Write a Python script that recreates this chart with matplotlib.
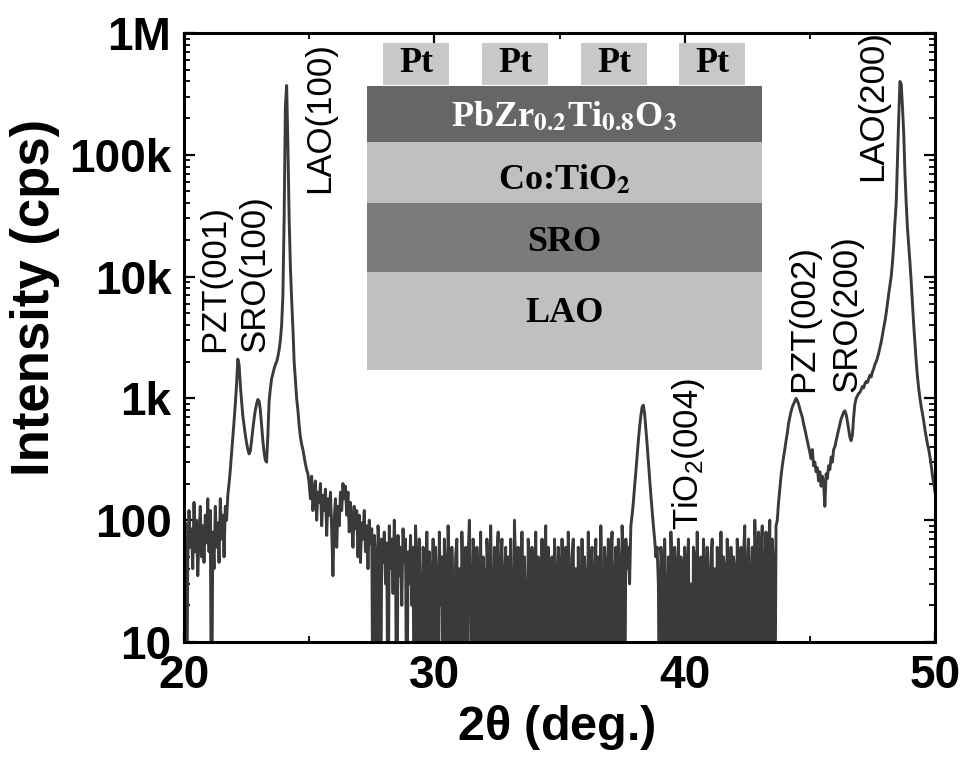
import numpy as np
import matplotlib
matplotlib.use("Agg")
import matplotlib.pyplot as plt
from matplotlib.patches import Rectangle
from matplotlib.ticker import FixedLocator, FixedFormatter, LogLocator, NullFormatter

# XRD scan, 0.05 deg steps from 20 to 50 deg (cps)
two_theta = np.round(np.linspace(20, 50, 601), 2)
counts = [
    # 20
    70, 95, 1, 45, 120, 60, 85, 40, 140, 55, 100, 35, 75, 130, 50, 90, 45, 110, 65, 150,
    # 21
    55, 120, 1, 80, 40, 130, 60, 95, 45, 150, 70, 110, 50, 130, 100, 160, 200, 260, 350, 480,
    # 22  PZT(001), SRO(100)
    650, 900, 1300, 2100, 1900, 1300, 950, 720, 600, 500, 430, 380, 350, 370, 450, 560, 680, 800, 900, 980,
    # 23
    950, 800, 600, 450, 360, 310, 300, 500, 950, 1200, 1450, 1600, 1750, 1900, 2000, 2200, 2500, 3000, 4000, 7000,
    # 24  LAO(100)
    30000, 250000, 370000, 120000, 30000, 12000, 6500, 3800, 2000, 1400, 1000, 800, 600, 480, 420, 380, 330, 290, 260, 240,
    # 25
    200, 150, 230, 120, 180, 210, 100, 170, 140, 200, 90, 160, 120, 180, 75, 150, 110, 170, 85, 35,
    # 26
    100, 150, 60, 130, 90, 170, 120, 200, 150, 190, 110, 170, 80, 140, 100, 60, 130, 85, 120, 50,
    # 27
    110, 45, 95, 70, 120, 55, 90, 40, 100, 65, 85, 1, 75, 50, 1, 90, 60, 1, 70, 45,
    # 28
    80, 30, 65, 1, 90, 40, 70, 25, 100, 50, 1, 75, 35, 60, 20, 85, 45, 70, 1, 55,
    # 29
    30, 75, 20, 60, 1, 90, 45, 1, 70, 20, 1, 60, 40, 1, 80, 1, 55, 30, 1, 70,
    # 30
    1, 60, 30, 1, 80, 20, 50, 1, 70, 40, 1, 90, 30, 1, 60, 20, 1, 50, 70, 1,
    # 31
    40, 1, 80, 30, 1, 60, 1, 50, 100, 20, 1, 70, 40, 1, 60, 30, 1, 80, 1, 50,
    # 32
    30, 1, 70, 40, 1, 90, 20, 1, 60, 1, 50, 80, 1, 40, 70, 1, 30, 60, 1, 50,
    # 33
    1, 70, 20, 1, 100, 40, 1, 60, 30, 1, 80, 1, 50, 20, 1, 70, 40, 1, 60, 30,
    # 34
    1, 80, 1, 50, 30, 1, 70, 1, 40, 90, 1, 60, 20, 1, 50, 1, 70, 30, 1, 60,
    # 35
    40, 1, 70, 20, 1, 60, 1, 80, 30, 1, 50, 70, 1, 40, 1, 60, 20, 1, 70, 1,
    # 36
    50, 30, 1, 80, 1, 40, 60, 1, 30, 70, 1, 50, 1, 90, 20, 1, 60, 40, 1, 70,
    # 37
    1, 50, 80, 1, 30, 60, 1, 70, 40, 1, 90, 50, 1, 70, 40, 60, 30, 90, 110, 140,
    # 38  TiO2(004)
    190, 250, 340, 450, 580, 720, 850, 880, 750, 560, 420, 300, 220, 160, 120, 90, 70, 50, 60, 30,
    # 39
    1, 60, 40, 1, 70, 20, 1, 50, 1, 80, 30, 1, 60, 40, 1, 70, 1, 50, 30, 1,
    # 40
    60, 1, 40, 70, 1, 30, 1, 60, 50, 1, 80, 20, 1, 50, 1, 70, 40, 1, 60, 30,
    # 41
    1, 50, 70, 1, 40, 1, 60, 30, 1, 80, 1, 50, 40, 1, 70, 20, 1, 60, 1, 50,
    # 42
    40, 1, 70, 30, 1, 60, 1, 50, 90, 1, 40, 70, 1, 30, 60, 1, 100, 50, 1, 80,
    # 43
    1, 60, 90, 1, 40, 80, 1, 50, 100, 1, 70, 40, 1, 90, 100, 140, 180, 230, 280, 330,
    # 44  PZT(002)
    380, 450, 520, 620, 700, 780, 850, 900, 950, 1000, 960, 900, 820, 760, 700, 620, 560, 500, 450, 400,
    # 45
    360, 320, 380, 280, 300, 250, 270, 210, 250, 190, 230, 200, 130, 240, 220, 280, 260, 330, 300, 380,
    # 46  SRO(200)
    400, 450, 500, 560, 620, 680, 720, 770, 790, 740, 650, 560, 480, 450, 500, 700, 900, 1000, 1050, 1100,
    # 47
    1120, 1180, 1250, 1220, 1320, 1380, 1350, 1450, 1550, 1500, 1650, 1750, 1900, 2000, 2150, 2350, 2600, 2900, 3300, 3800,
    # 48  LAO(200)
    4300, 5000, 6000, 7200, 8500, 10000, 13000, 18000, 28000, 40000, 90000, 200000, 400000, 380000, 250000, 150000, 70000, 40000, 25000, 18000,
    # 49
    13000, 9000, 6000, 4000, 2800, 2000, 1500, 1200, 1000, 850, 750, 650, 550, 480, 420, 380, 330, 280, 230, 200,
    # 50
    170,
]

# peak labels: name, 2theta of label, intensity at the label's lower end
peak_names = ["PZT(001)", "SRO(100)", "LAO(100)", "TiO$_2$(004)", "PZT(002)", "SRO(200)", "LAO(200)"]
peak_x = [21.22, 22.84, 25.43, 40.14, 44.77, 46.49, 47.49]
peak_y = [2400, 2400, 48500, 83, 1130, 1130, 61000]

y_ticks = [10, 100, 1e3, 1e4, 1e5, 1e6]
y_tick_labels = ["10", "100", "1k", "10k", "100k", "1M"]
x_ticks = [20, 30, 40, 50]

# layer sketch (top to bottom), drawn in pixel units of the inset
layer_labels = [r"PbZr$_{\mathbf{0.2}}$Ti$_{\mathbf{0.8}}$O$_{\mathbf{3}}$", r"Co:TiO$_{\mathbf{2}}$", "SRO", "LAO"]
layer_colors = ["#666666", "#c0c0c0", "#7b7b7b", "#c0c0c0"]
layer_text_colors = ["white", "black", "black", "black"]
layer_heights = [56, 61, 69, 98]
pt_left = [383, 482, 581, 679]

plt.rcParams["font.family"] = ["Liberation Sans", "DejaVu Sans"]
plt.rcParams["mathtext.fontset"] = "custom"
plt.rcParams["mathtext.rm"] = "Liberation Sans"
plt.rcParams["mathtext.it"] = "Liberation Sans:italic"
plt.rcParams["mathtext.bf"] = "Liberation Sans:bold"

W, H = 965, 766
fig = plt.figure(figsize=(W / 100, H / 100), dpi=100)
ax = fig.add_axes([184 / W, 124 / H, 751 / W, 609 / H])

ax.plot(two_theta, counts, color="#3a3a3a", lw=2.1)
ax.set_yscale("log")
ax.set_xlim(20, 50)
ax.set_ylim(10, 1e6)

ax.yaxis.set_major_locator(FixedLocator(y_ticks))
ax.yaxis.set_major_formatter(FixedFormatter(y_tick_labels))
ax.yaxis.set_minor_locator(LogLocator(base=10, subs=np.arange(2, 10)))
ax.yaxis.set_minor_formatter(NullFormatter())
ax.xaxis.set_major_locator(FixedLocator(x_ticks))
ax.xaxis.set_minor_locator(FixedLocator([25, 35, 45]))

ax.tick_params(which="both", direction="in", top=True, right=True)
ax.tick_params(which="major", length=8, width=1.6, labelsize=33, pad=9)
ax.tick_params(which="minor", length=4.5, width=1.3)
for lab in ax.get_xticklabels() + ax.get_yticklabels():
    lab.set_fontweight("bold")
for sp in ax.spines.values():
    sp.set_linewidth(2.2)

ax.set_xlabel(r"2$\mathbf{\theta}$ (deg.)", fontsize=35, fontweight="bold")
ax.set_ylabel("Intensity (cps)", fontsize=38, fontweight="bold")
ax.xaxis.set_label_coords(0.496, -0.10)
ax.yaxis.set_label_coords(-0.165, 0.565)

for name, x, y in zip(peak_names, peak_x, peak_y):
    ax.text(x, y, name, rotation=90, ha="center", va="bottom", fontsize=25)

# inset: device layer stack
ins = fig.add_axes([367 / W, (H - 370) / H, 395 / W, 327 / H])
ins.set_xlim(367, 762)
ins.set_ylim(370, 43)
ins.axis("off")
for x0 in pt_left:
    ins.add_patch(Rectangle((x0, 43), 66, 42, color="#c8c8c8", lw=0))
    ins.text(x0 + 33, 63, "Pt", ha="center", va="center", fontsize=26,
             family="Liberation Serif", fontweight="bold")
top = 86
text_shift = [4, 8, 5, -8]
for label, col, tcol, h, dy in zip(layer_labels, layer_colors, layer_text_colors, layer_heights, text_shift):
    ins.add_patch(Rectangle((367, top), 395, h, color=col, lw=0))
    ins.text(564.5, top + h / 2 + dy, label, ha="center", va="center", fontsize=26, color=tcol,
             family="Liberation Serif", fontweight="bold", math_fontfamily="stix")
    top += h

fig.savefig("out.png", dpi=100)
